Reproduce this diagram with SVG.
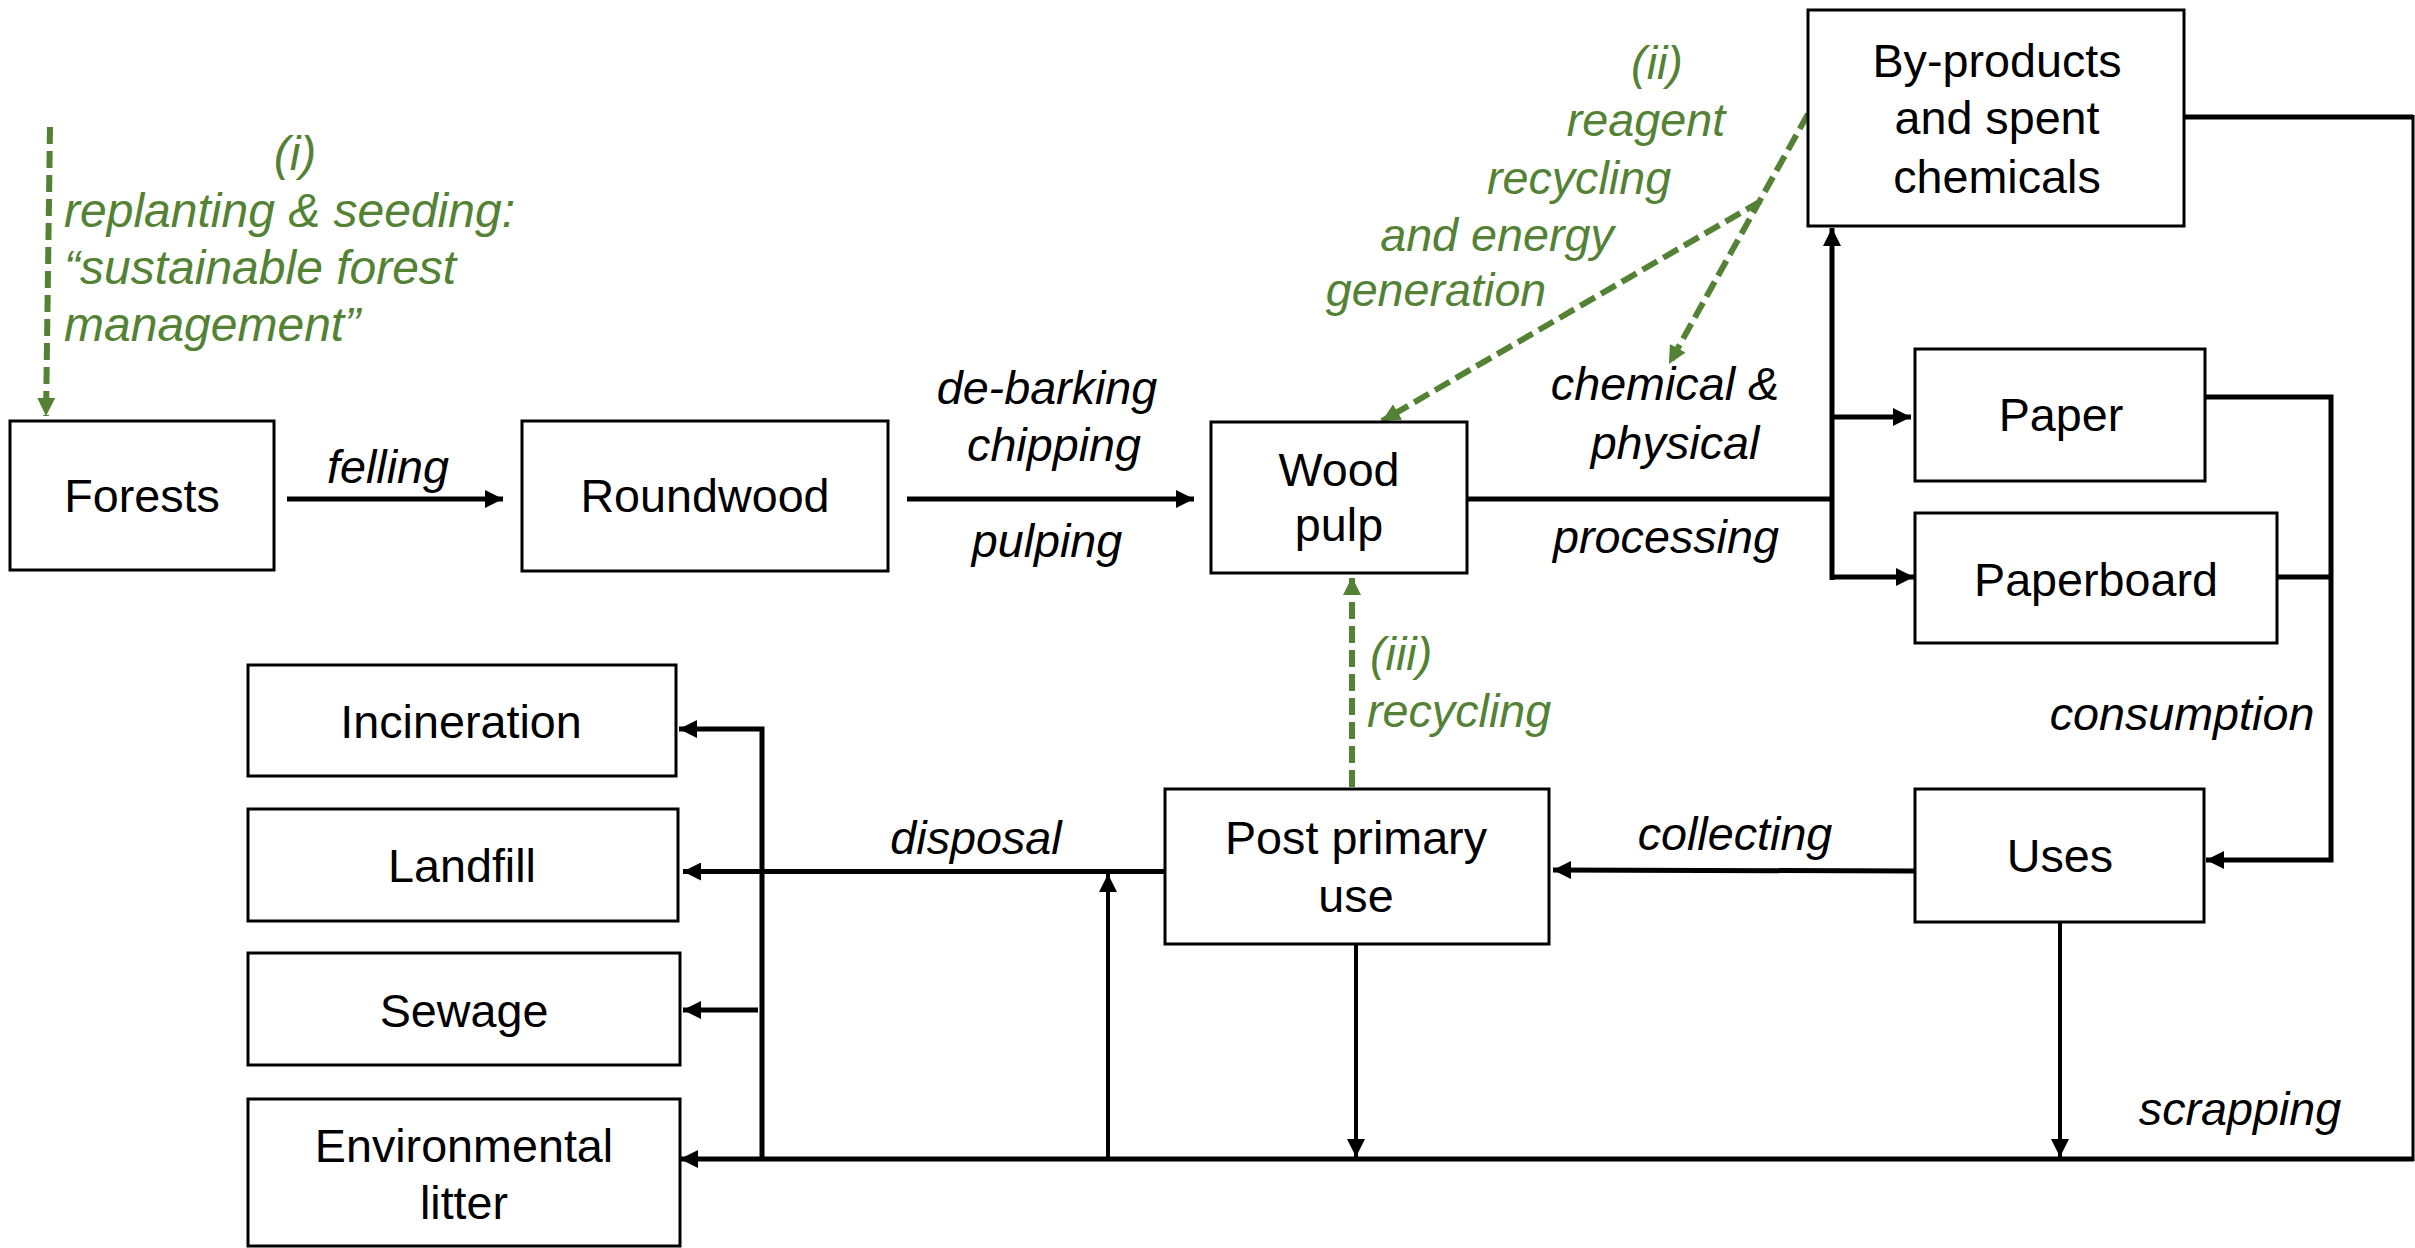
<svg xmlns="http://www.w3.org/2000/svg" width="2415" height="1248" viewBox="0 0 2415 1248">
<style>
  .box{fill:#fff;stroke:#000;stroke-width:3}
  text{font-family:"Liberation Sans",Arial,sans-serif;font-size:46.7px;fill:#000}
  .c{text-anchor:middle}
  .it{font-style:italic}
  .g{fill:#548235;font-style:italic}
  .big{font-size:48px}
  .ln{fill:none;stroke:#000;stroke-width:5}
  .thin{fill:none;stroke:#000;stroke-width:4}
  .gd{fill:none;stroke:#548235;stroke-width:6;stroke-dasharray:17 7}
</style>
<defs>
  <marker id="ab" markerUnits="userSpaceOnUse" markerWidth="18" markerHeight="18" viewBox="0 0 18 18" refX="18" refY="9" orient="auto">
    <path d="M0,0 L18,9 L0,18 z" fill="#000"/>
  </marker>
  <marker id="ag" markerUnits="userSpaceOnUse" markerWidth="18" markerHeight="18" viewBox="0 0 18 18" refX="18" refY="9" orient="auto">
    <path d="M0,0 L18,9 L0,18 z" fill="#548235"/>
  </marker>
</defs>
<rect width="2415" height="1248" fill="#fff"/>

<g id="connectors">
  <line class="ln" x1="287" y1="499" x2="503" y2="499" marker-end="url(#ab)"/>
  <line class="ln" x1="907" y1="499" x2="1194" y2="499" marker-end="url(#ab)"/>
  <line class="ln" x1="1467" y1="499" x2="1834" y2="499"/>
  <line class="ln" x1="1832" y1="580" x2="1832" y2="228" marker-end="url(#ab)"/>
  <line class="ln" x1="1832" y1="417" x2="1911" y2="417" marker-end="url(#ab)"/>
  <line class="ln" x1="1832" y1="577" x2="1914" y2="577" marker-end="url(#ab)"/>
  <polyline class="ln" points="2205,397 2331,397 2331,860 2206,860" marker-end="url(#ab)"/>
  <line class="ln" x1="2277" y1="577" x2="2331" y2="577"/>
  <polyline class="ln" points="2184,117 2413,117"/>
  <line fill="none" stroke="#000" stroke-width="3" x1="2413" y1="115" x2="2413" y2="1161"/>
  <line class="ln" x1="2414" y1="1159" x2="680" y2="1159" marker-end="url(#ab)"/>
  <line class="ln" x1="1915" y1="871" x2="1553" y2="870" marker-end="url(#ab)"/>
  <line class="ln" x1="1165" y1="871.5" x2="683" y2="871.5" marker-end="url(#ab)"/>
  <line class="thin" x1="1356" y1="944" x2="1356" y2="1157" marker-end="url(#ab)"/>
  <line class="thin" x1="2060" y1="922" x2="2060" y2="1157" marker-end="url(#ab)"/>
  <line class="thin" x1="1108" y1="1159" x2="1108" y2="874" marker-end="url(#ab)"/>
  <polyline class="ln" points="762,1159 762,729 679,729" marker-end="url(#ab)"/>
  <line class="ln" x1="758" y1="1010" x2="683" y2="1010" marker-end="url(#ab)"/>
  <line class="gd" x1="50" y1="127" x2="46" y2="416" marker-end="url(#ag)"/>
  <line class="gd" x1="1352" y1="787" x2="1352" y2="577" marker-end="url(#ag)"/>
  <line class="gd" x1="1808" y1="114" x2="1669" y2="364" marker-end="url(#ag)"/>
  <line class="gd" x1="1761" y1="201" x2="1382" y2="421" marker-end="url(#ag)"/>
</g>

<g id="labels">
  <text class="it c" x="388" y="483">felling</text>
  <text class="it c" x="1047" y="404">de-barking</text>
  <text class="it c" x="1054" y="461">chipping</text>
  <text class="it c" x="1047" y="557">pulping</text>
  <text class="it c" x="1665" y="400">chemical &amp;</text>
  <text class="it c" x="1675" y="459">physical</text>
  <text class="it c" x="1666" y="553">processing</text>
  <text class="it c" x="2182" y="730">consumption</text>
  <text class="it c" x="1735" y="850">collecting</text>
  <text class="it c" x="976" y="854">disposal</text>
  <text class="it c" x="2240" y="1125">scrapping</text>
  <text class="g c big" x="295" y="170">(i)</text>
  <text class="g big" x="64" y="227">replanting &amp; seeding:</text>
  <text class="g big" x="64" y="284">“sustainable forest</text>
  <text class="g big" x="64" y="341">management”</text>
  <text class="g c" x="1657" y="79">(ii)</text>
  <text class="g c" x="1646" y="136">reagent</text>
  <text class="g c" x="1579" y="194">recycling</text>
  <text class="g c" x="1497" y="251">and energy</text>
  <text class="g c" x="1436" y="306">generation</text>
  <text class="g" x="1370" y="670">(iii)</text>
  <text class="g" x="1367" y="727">recycling</text>
</g>

<g id="forests"><rect class="box" x="10" y="421" width="264" height="149"/><text class="c" x="142" y="512">Forests</text></g>
<g id="roundwood"><rect class="box" x="522" y="421" width="366" height="150"/><text class="c" x="705" y="512">Roundwood</text></g>
<g id="woodpulp"><rect class="box" x="1211" y="422" width="256" height="151"/><text class="c" x="1339" y="486">Wood</text><text class="c" x="1339" y="541">pulp</text></g>
<g id="byproducts"><rect class="box" x="1808" y="10" width="376" height="216"/><text class="c" x="1997" y="77">By-products</text><text class="c" x="1997" y="134">and spent</text><text class="c" x="1997" y="193">chemicals</text></g>
<g id="paper"><rect class="box" x="1915" y="349" width="290" height="132"/><text class="c" x="2061" y="431">Paper</text></g>
<g id="paperboard"><rect class="box" x="1915" y="513" width="362" height="130"/><text class="c" x="2096" y="596">Paperboard</text></g>
<g id="uses"><rect class="box" x="1915" y="789" width="289" height="133"/><text class="c" x="2060" y="872">Uses</text></g>
<g id="postprimary"><rect class="box" x="1165" y="789" width="384" height="155"/><text class="c" x="1356" y="854">Post primary</text><text class="c" x="1356" y="912">use</text></g>
<g id="incineration"><rect class="box" x="248" y="665" width="428" height="111"/><text class="c" x="461" y="738">Incineration</text></g>
<g id="landfill"><rect class="box" x="248" y="809" width="430" height="112"/><text class="c" x="462" y="882">Landfill</text></g>
<g id="sewage"><rect class="box" x="248" y="953" width="432" height="112"/><text class="c" x="464" y="1027">Sewage</text></g>
<g id="litter"><rect class="box" x="248" y="1099" width="432" height="147"/><text class="c" x="464" y="1162">Environmental</text><text class="c" x="464" y="1219">litter</text></g>
</svg>
